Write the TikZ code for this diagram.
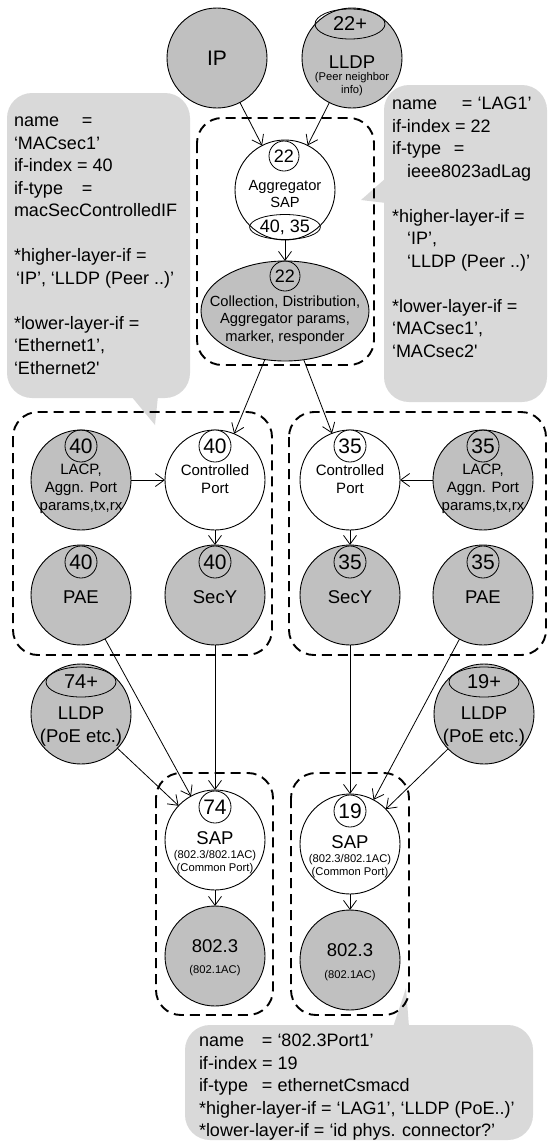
\documentclass[tikz,border=0pt]{standalone}
\usepackage{fontspec}
\setmainfont{Liberation Sans}
\usetikzlibrary{arrows.meta,shapes.geometric}
\definecolor{nodegray}{RGB}{192,192,192}
\definecolor{notegray}{RGB}{217,217,217}
\newcommand\setfs[2]{\fontsize{#1}{#2}\selectfont}
\begin{document}
\begin{tikzpicture}[x=1pt,y=-1pt,
  every node/.style={inner sep=0pt, outer sep=0pt},
  unit/.style={circle, draw, line width=0.9pt, minimum size=100pt, fill=nodegray},
  unitw/.style={unit, fill=white},
  num/.style={circle, draw, line width=0.8pt, minimum size=32pt, font=\setfs{21}{24}},
  numa/.style={circle, draw, line width=0.8pt, minimum size=30pt, font=\setfs{18}{20}},
  tag/.style={ellipse, draw, line width=0.8pt, minimum width=70pt, minimum height=30pt, font=\setfs{20}{24}},
  big/.style={font=\setfs{18.5}{23}, align=center},
  mid/.style={font=\setfs{15}{18}, align=center},
  tiny/.style={font=\setfs{11.2}{12.5}, align=center},
  frame/.style={draw, line width=1.9pt, dash pattern=on 10pt off 6pt, rounded corners=25pt},
  note/.style={fill=notegray, rounded corners=25pt},
  notetext/.style={anchor=north west, align=left, font=\setfs{18}{22.5}},
  link/.style={-{Straight Barb[length=9pt,width=13pt]}, line width=0.8pt}]
\useasboundingbox (0,0) rectangle (548,1141);

% annotation bubbles
\fill[note] (7,93) rectangle (190,398);
\fill[notegray] (131,396) -- (155,425) -- (158,396) -- cycle;
\fill[note] (384,85) rectangle (547,402);
\fill[notegray] (386,178) -- (361,200) -- (386,203) -- cycle;
\fill[note] (185,1025) rectangle (533,1140);
\fill[notegray] (393,1027) -- (406,988) -- (409,1027) -- cycle;

\node[notetext] (note-macsec) at (14,111) {\strut\makebox[68pt][l]{name}=\\
‘MACsec1’\\
if-index = 40\\
\makebox[68pt][l]{if-type}=\\
macSecControlledIF\\[22.5pt]
*higher-layer-if =\\
\hspace*{2pt}‘IP’, ‘LLDP (Peer ..)’\\[22.5pt]
*lower-layer-if =\\
‘Ethernet1’,\\
‘Ethernet2\textquotesingle};

\node[notetext] (note-lag) at (392,94) {\strut\makebox[70pt][l]{name}= ‘LAG1’\\
if-index = 22\\
\makebox[62pt][l]{if-type}=\\
\hspace*{15pt}ieee8023adLag\\[22.5pt]
*higher-layer-if =\\
\hspace*{15pt}‘IP’,\\
\hspace*{15pt}‘LLDP (Peer ..)’\\[22.5pt]
*lower-layer-if =\\
‘MACsec1’,\\
‘MACsec2\textquotesingle};

\node[notetext] (note-port) at (199,1031) {\strut\makebox[63pt][l]{name}= ‘802.3Port1’\\
if-index = 19\\
\makebox[63pt][l]{if-type}= ethernetCsmacd\\
*higher-layer-if = ‘LAG1’, ‘LLDP (PoE..)’\\
*lower-layer-if = ‘id phys. connector?’};

% dashed groupings
\draw[frame] (197,118) rectangle (374,365);
\draw[frame] (13,412) rectangle (272,655);
\draw[frame] (289,412) rectangle (546,655);
\draw[frame] (156,773) rectangle (273,1015);
\draw[frame] (291,773) rectangle (409,1015);

% upper layers
\node[unit, font=\setfs{21}{24}] (ip) at (217,58) {IP};
\node[unit] (lldp) at (352,58) {};
\node[tag] (lldp-n) at (350,24) {22+};
\node[big] (lldp-t) at (352,62) {LLDP};
\node[tiny] (lldp-s) at (352,84) {(Peer neighbor\\info)};

% aggregator
\node[unitw] (agg) at (285,190) {};
\node[numa, fill=white] (agg-n) at (284,156) {22};
\node[mid, font=\setfs{14.7}{17}] (agg-t) at (285,194) {Aggregator\\SAP};
\node[ellipse, draw, line width=0.8pt, minimum width=62pt, minimum height=25pt, font=\setfs{18}{20}] (agg-p) at (285,227) {40, 35};

\node[ellipse, draw, line width=0.9pt, fill=nodegray, minimum width=168pt, minimum height=100pt] (coll) at (285,311) {};
\node[numa] (coll-n) at (285,276) {22};
\node[mid, font=\setfs{14.7}{17.5}] (coll-t) at (285,320) {Collection, Distribution,\\Aggregator params,\\marker, responder};

% MACsec port 40
\node[unit] (lacp40) at (81,480) {};
\node[num] (lacp40-n) at (81,446) {40};
\node[mid] (lacp40-t) at (81,489) {LACP,\\Aggn. Port\\params,tx,rx};
\node[unitw] (cp40) at (215,480) {};
\node[num, fill=white] (cp40-n) at (215,446) {40};
\node[mid] (cp40-t) at (215,479) {Controlled\\Port};
\node[unit] (pae40) at (81,595) {};
\node[num] (pae40-n) at (81,562) {40};
\node[big] (pae40-t) at (81,597) {PAE};
\node[unit] (secy40) at (215,595) {};
\node[num] (secy40-n) at (215,562) {40};
\node[big] (secy40-t) at (215,597) {SecY};

% MACsec port 35
\node[unitw] (cp35) at (350,480) {};
\node[num, fill=white] (cp35-n) at (350,446) {35};
\node[mid] (cp35-t) at (350,479) {Controlled\\Port};
\node[unit] (lacp35) at (483,480) {};
\node[num] (lacp35-n) at (483,446) {35};
\node[mid] (lacp35-t) at (483,489) {LACP,\\Aggn. Port\\params,tx,rx};
\node[unit] (secy35) at (350,595) {};
\node[num] (secy35-n) at (350,562) {35};
\node[big] (secy35-t) at (350,597) {SecY};
\node[unit] (pae35) at (483,595) {};
\node[num] (pae35-n) at (483,562) {35};
\node[big] (pae35-t) at (483,597) {PAE};

% LLDP on the physical ports
\node[unit] (lldp74) at (81,714) {};
\node[tag] (lldp74-n) at (81,682) {74+};
\node[big] (lldp74-t) at (81,727) {LLDP\\(PoE etc.)};
\node[unit] (lldp19) at (484,714) {};
\node[tag] (lldp19-n) at (484,682) {19+};
\node[big] (lldp19-t) at (484,727) {LLDP\\(PoE etc.)};

% 802.3 ports
\node[unitw] (sap74) at (215,840) {};
\node[num, fill=white] (sap74-n) at (215,807) {74};
\node[big] (sap74-t) at (215,838) {SAP};
\node[tiny] (sap74-s) at (215,862) {(802.3/802.1AC)\\(Common Port)};
\node[unit] (eth74) at (215,956) {};
\node[big] (eth74-t) at (215,946) {802.3};
\node[tiny] (eth74-s) at (215,971) {(802.1AC)};

\node[unitw] (sap19) at (350,844) {};
\node[num, fill=white] (sap19-n) at (350,811) {19};
\node[big] (sap19-t) at (350,842) {SAP};
\node[tiny] (sap19-s) at (350,866) {(802.3/802.1AC)\\(Common Port)};
\node[unit] (eth19) at (350,960) {};
\node[big] (eth19-t) at (350,950) {802.3};
\node[tiny] (eth19-s) at (350,976) {(802.1AC)};

% stacking relations
\draw[link] (ip) -- (agg);
\draw[link] (lldp) -- (agg);
\draw[link] (agg) -- (coll);
\draw[link] (coll) -- (cp40);
\draw[link] (coll) -- (cp35);
\draw[link] (lacp40) -- (cp40);
\draw[link] (lacp35) -- (cp35);
\draw[link] (cp40) -- (secy40);
\draw[link] (cp35) -- (secy35);
\draw[link] (pae40) -- (sap74);
\draw[link] (secy40) -- (sap74);
\draw[link] (lldp74) -- (sap74);
\draw[link] (secy35) -- (sap19);
\draw[link] (pae35) -- (sap19);
\draw[link] (lldp19) -- (sap19);
\draw[link] (sap74) -- (eth74);
\draw[link] (sap19) -- (eth19);
\end{tikzpicture}
\end{document}
